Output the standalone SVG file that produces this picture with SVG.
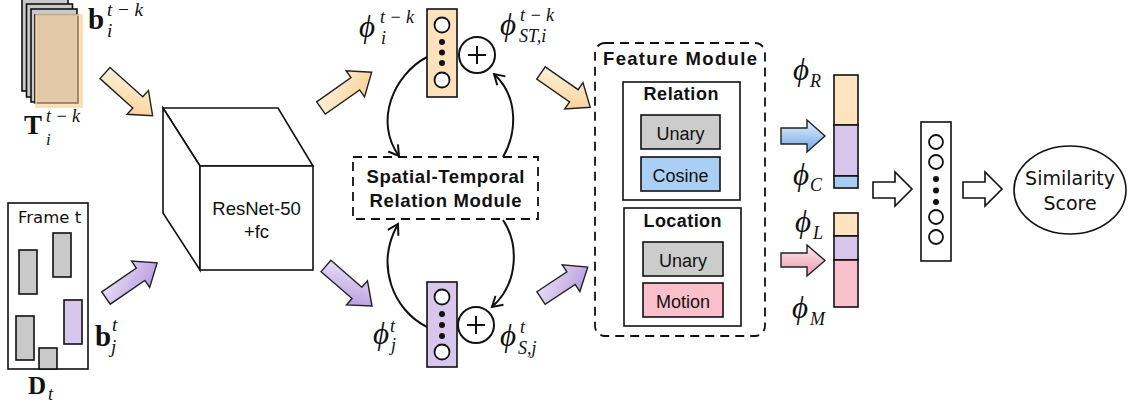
<svg xmlns="http://www.w3.org/2000/svg" width="1128" height="406" viewBox="0 0 1128 406">
  <style>
    .ln { fill: none; stroke: #111; stroke-width: 2; }
    .box { stroke: #111; stroke-width: 1.6; }
    .dash { fill: none; stroke: #111; stroke-width: 1.8; stroke-dasharray: 9 6; }
    .sans { font-family: "Liberation Sans", Arial, sans-serif; fill: #111; }
    .bold { font-family: "Liberation Sans", Arial, sans-serif; font-weight: bold; fill: #111; }
    .dv { font-family: "DejaVu Sans", Verdana, sans-serif; fill: #111; }
    .mb { font-family: "Liberation Serif", "DejaVu Serif", serif; font-weight: bold; fill: #111; }
    .mi { font-family: "Liberation Serif", "DejaVu Serif", serif; font-style: italic; fill: #111; }
    .phi { font-family: "Liberation Serif", "DejaVu Serif", serif; font-style: italic; font-size: 31px; fill: #111; }
    .arr { stroke: #222; stroke-width: 1.4; stroke-linejoin: miter; }
    .open { fill: #fff; stroke: #111; stroke-width: 1.6; }
    .node { fill: #fff; stroke: #111; stroke-width: 1.8; }
    .dot { fill: #111; }
  </style>
  <defs>
    <linearGradient id="gPeach" x1="0" y1="0" x2="1" y2="1">
      <stop offset="0" stop-color="#fff6e8"/>
      <stop offset="1" stop-color="#f7cc8a"/>
    </linearGradient>
    <linearGradient id="gPurple" x1="0" y1="0" x2="1" y2="1">
      <stop offset="0" stop-color="#f0e9fa"/>
      <stop offset="1" stop-color="#ad90da"/>
    </linearGradient>
    <linearGradient id="gBlue" x1="0" y1="0" x2="0" y2="1">
      <stop offset="0" stop-color="#e8f2fd"/>
      <stop offset="1" stop-color="#6fa5e4"/>
    </linearGradient>
    <linearGradient id="gPink" x1="0" y1="0" x2="0" y2="1">
      <stop offset="0" stop-color="#fde9ed"/>
      <stop offset="1" stop-color="#ee9aad"/>
    </linearGradient>
    <marker id="vhead" viewBox="-12 -8 14 16" markerWidth="14" markerHeight="16" refX="0" refY="0" orient="auto" markerUnits="userSpaceOnUse">
      <path d="M-10,-6 L0,0 L-10,6" fill="none" stroke="#111" stroke-width="2"/>
    </marker>
  </defs>

  <rect width="1128" height="406" fill="#fff"/>

  <!-- previous-frame track stack -->
  <g id="track-stack">
    <rect x="22" y="-2" width="46" height="93" fill="#c9c9c9" class="box"/>
    <rect x="26.5" y="4" width="46" height="93" fill="#c9c9c9" class="box"/>
    <rect x="31" y="9" width="46" height="93" fill="#c9c9c9" class="box"/>
    <rect x="35" y="15" width="43" height="88" fill="#c9c9c9" class="box"/>
    <rect x="36" y="15" width="46" height="92" fill="#f8c98a" fill-opacity="0.55" stroke="#fbd9a6" stroke-width="1.4"/>
    <text class="mb" x="88" y="29" font-size="29">b</text>
    <text class="mi" x="107" y="16" font-size="19" textLength="36" lengthAdjust="spacing">t−k</text>
    <text class="mi" x="107" y="37" font-size="19">i</text>
    <text class="mb" x="24" y="134" font-size="27">T</text>
    <text class="mi" x="46" y="122" font-size="18" textLength="34" lengthAdjust="spacing">t−k</text>
    <text class="mi" x="46" y="145" font-size="17">i</text>
  </g>

  <!-- current frame detections -->
  <g id="frame-t">
    <rect x="8" y="203" width="80" height="166" fill="#fff" class="box"/>
    <text class="dv" x="18" y="223" font-size="16.5">Frame t</text>
    <rect x="19" y="250" width="18" height="44" fill="#c9c9c9" class="box"/>
    <rect x="53" y="233" width="18" height="44" fill="#c9c9c9" class="box"/>
    <rect x="16" y="316" width="18" height="44" fill="#c9c9c9" class="box"/>
    <rect x="39" y="348" width="18" height="21" fill="#c9c9c9" class="box"/>
    <rect x="64" y="300" width="18" height="44" fill="#d8c6ec" class="box"/>
    <text class="mb" x="95" y="346" font-size="29">b</text>
    <text class="mi" x="112" y="331" font-size="19">t</text>
    <text class="mi" x="111" y="353" font-size="19">j</text>
    <text class="mb" x="28" y="394" font-size="25">D</text>
    <text class="mi" x="48" y="400" font-size="18">t</text>
  </g>

  <!-- backbone cube -->
  <g id="resnet">
    <path d="M163,108 H278 L313,166 H200 Z" fill="#fff" class="box"/>
    <path d="M163,108 L200,166 V270 L163,213 Z" fill="#fff" class="box"/>
    <rect x="200" y="166" width="113" height="104" fill="#fff" class="box"/>
    <text class="sans" x="256.5" y="215" font-size="18.5" text-anchor="middle">ResNet-50</text>
    <text class="sans" x="256.5" y="238" font-size="18.5" text-anchor="middle">+fc</text>
  </g>

  <!-- track feature vector -->
  <g id="vec-track">
    <rect x="427" y="9" width="30" height="88" fill="#fde2bd" class="box"/>
    <circle cx="442" cy="25" r="7.5" class="node"/>
    <circle cx="442" cy="42" r="3" class="dot"/>
    <circle cx="442" cy="52.5" r="3" class="dot"/>
    <circle cx="442" cy="63" r="3" class="dot"/>
    <circle cx="442" cy="80" r="7.5" class="node"/>
    <text class="phi" x="359" y="37">ϕ</text>
    <text class="mi" x="380" y="23" font-size="18" textLength="34" lengthAdjust="spacing">t−k</text>
    <text class="mi" x="381" y="44" font-size="18">i</text>
  </g>

  <g id="sum-track">
    <circle cx="477" cy="55" r="18" fill="#fff" class="ln"/>
    <path d="M468,55 H486 M477,46 V64" class="ln"/>
    <text class="phi" x="500" y="35">ϕ</text>
    <text class="mi" x="520" y="21" font-size="18" textLength="34" lengthAdjust="spacing">t−k</text>
    <text class="mi" x="519" y="42" font-size="18">ST,i</text>
  </g>

  <!-- detection feature vector -->
  <g id="vec-det">
    <rect x="427" y="282" width="30" height="85" fill="#d8c6ec" class="box"/>
    <circle cx="442" cy="297" r="7.5" class="node"/>
    <circle cx="442" cy="314" r="3" class="dot"/>
    <circle cx="442" cy="325" r="3" class="dot"/>
    <circle cx="442" cy="336" r="3" class="dot"/>
    <circle cx="442" cy="352" r="7.5" class="node"/>
    <text class="phi" x="373" y="344">ϕ</text>
    <text class="mi" x="390" y="332" font-size="18">t</text>
    <text class="mi" x="391" y="351" font-size="18">j</text>
  </g>

  <g id="sum-det">
    <circle cx="476" cy="325" r="18" fill="#fff" class="ln"/>
    <path d="M467,325 H485 M476,316 V334" class="ln"/>
    <text class="phi" x="500" y="346">ϕ</text>
    <text class="mi" x="520" y="333" font-size="18">t</text>
    <text class="mi" x="518" y="354" font-size="18">S,j</text>
  </g>

  <!-- spatial-temporal relation module -->
  <g id="strm">
    <rect x="353" y="157" width="185" height="62" class="dash"/>
    <text class="bold" x="445.5" y="183" font-size="18.5" text-anchor="middle" textLength="158" lengthAdjust="spacing">Spatial-Temporal</text>
    <text class="bold" x="445.5" y="207" font-size="18.5" text-anchor="middle" textLength="152" lengthAdjust="spacing">Relation Module</text>
  </g>

  <!-- feature module -->
  <g id="feature-module">
    <rect x="595" y="43" width="170" height="293" rx="10" class="dash"/>
    <text class="bold" x="680" y="65" font-size="18.5" text-anchor="middle" textLength="154" lengthAdjust="spacing">Feature Module</text>
    <g id="relation">
      <rect x="623" y="82" width="117" height="118" fill="#fff" class="box"/>
      <text class="bold" x="681" y="100" font-size="18" text-anchor="middle" textLength="75" lengthAdjust="spacing">Relation</text>
      <rect x="641" y="115" width="79" height="34" fill="#cccccc" class="box"/>
      <text class="sans" x="680.5" y="140" font-size="18" text-anchor="middle">Unary</text>
      <rect x="641" y="157" width="79" height="34" fill="#a9cff5" class="box"/>
      <text class="sans" x="680.5" y="182" font-size="18" text-anchor="middle">Cosine</text>
    </g>
    <g id="location">
      <rect x="624" y="208" width="117" height="118" fill="#fff" class="box"/>
      <text class="bold" x="682.5" y="227" font-size="18" text-anchor="middle" textLength="78" lengthAdjust="spacing">Location</text>
      <rect x="643" y="242" width="80" height="34" fill="#cccccc" class="box"/>
      <text class="sans" x="683" y="267" font-size="18" text-anchor="middle">Unary</text>
      <rect x="643" y="283" width="80" height="34" fill="#f9c0cb" class="box"/>
      <text class="sans" x="683" y="308" font-size="18" text-anchor="middle">Motion</text>
    </g>
  </g>

  <!-- concatenated feature bars -->
  <g id="bar-relation">
    <rect x="834" y="75" width="24" height="50" fill="#fde4bf" class="box"/>
    <rect x="834" y="125" width="24" height="51" fill="#d8c5eb" class="box"/>
    <rect x="834" y="176" width="24" height="12" fill="#a7cdf5" class="box"/>
    <text class="phi" x="793" y="80">ϕ</text>
    <text class="mi" x="810" y="87" font-size="18">R</text>
    <text class="phi" x="793" y="185">ϕ</text>
    <text class="mi" x="810" y="191" font-size="18">C</text>
  </g>
  <g id="bar-location">
    <rect x="834" y="213" width="24" height="23" fill="#fde4bf" class="box"/>
    <rect x="834" y="236" width="24" height="24" fill="#d8c5eb" class="box"/>
    <rect x="834" y="260" width="24" height="47" fill="#f8c1cb" class="box"/>
    <text class="phi" x="795" y="232">ϕ</text>
    <text class="mi" x="813" y="239" font-size="18">L</text>
    <text class="phi" x="792" y="318">ϕ</text>
    <text class="mi" x="810" y="325" font-size="18">M</text>
  </g>

  <!-- classifier layer -->
  <g id="classifier">
    <rect x="921" y="122" width="30" height="139" fill="#fff" class="box"/>
    <circle cx="936" cy="142" r="7" class="node"/>
    <circle cx="936" cy="162" r="7" class="node"/>
    <circle cx="936" cy="179" r="3" class="dot"/>
    <circle cx="936" cy="190.5" r="3" class="dot"/>
    <circle cx="936" cy="202" r="3" class="dot"/>
    <circle cx="936" cy="217" r="7" class="node"/>
    <circle cx="936" cy="237" r="7" class="node"/>
  </g>

  <g id="similarity">
    <ellipse cx="1070" cy="190" rx="56" ry="44" fill="#fff" class="box"/>
    <text class="dv" x="1070" y="185" font-size="19" text-anchor="middle">Similarity</text>
    <text class="dv" x="1070" y="210" font-size="19" text-anchor="middle">Score</text>
  </g>

  <!-- connectors -->
  <g id="connectors">
    <path class="arr" fill="url(#gPeach)" transform="translate(105,73) rotate(41.9)" d="M0,-7.5 H44 V-16 L64,0 L44,16 V7.5 H0 Z"/>
    <path class="arr" fill="url(#gPurple)" transform="translate(106,298) rotate(-34.5)" d="M0,-7.5 H42 V-16 L62,0 L42,16 V7.5 H0 Z"/>
    <path class="arr" fill="url(#gPeach)" transform="translate(321,108) rotate(-35.2)" d="M0,-7.5 H42 V-16 L62,0 L42,16 V7.5 H0 Z"/>
    <path class="arr" fill="url(#gPurple)" transform="translate(326,266) rotate(41)" d="M0,-7.5 H41 V-16 L61,0 L41,16 V7.5 H0 Z"/>
    <path class="arr" fill="url(#gPeach)" transform="translate(541,73) rotate(34.8)" d="M0,-7.5 H40 V-16 L60,0 L40,16 V7.5 H0 Z"/>
    <path class="arr" fill="url(#gPurple)" transform="translate(541,298) rotate(-33.4)" d="M0,-7.5 H36 V-16 L56,0 L36,16 V7.5 H0 Z"/>

    <path class="arr" fill="url(#gBlue)" d="M781,128 H807 V120 L825,136 L807,152 V144 H781 Z"/>
    <path class="arr" fill="url(#gPink)" d="M781,253 H807 V245 L825,260.5 L807,276 V267 H781 Z"/>

    <path class="open" d="M873,182 H895 V172 L912,189 L895,206 V198 H873 Z"/>
    <path class="open" d="M963,182 H985 V172 L1002,189 L985,206 V198 H963 Z"/>

    <path class="ln" d="M427,57 C393,75 374,122 399,156" marker-end="url(#vhead)"/>
    <path class="ln" d="M503,157 C516,135 520,98 494,74" marker-end="url(#vhead)"/>
    <path class="ln" d="M427,327 C393,310 375,265 398,224" marker-end="url(#vhead)"/>
    <path class="ln" d="M503,220 C518,242 520,282 492,307" marker-end="url(#vhead)"/>
  </g>
</svg>
